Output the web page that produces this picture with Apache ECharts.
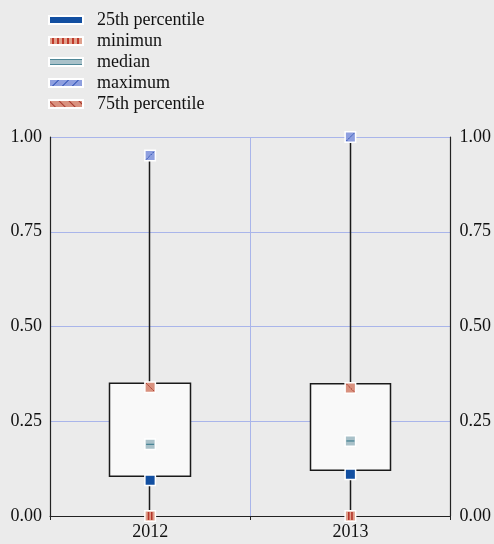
<!DOCTYPE html>
<html><head><meta charset="utf-8">
<style>html,body{margin:0;padding:0;background:#ebebeb;}#c{width:494px;height:544px;}</style>
<script src="https://cdn.jsdelivr.net/npm/echarts@6/dist/echarts.min.js"></script>
</head><body><div id="c"></div>
<script>
var categories = ['2012', '2013'];
var yTicks = [0, 0.25, 0.5, 0.75, 1];
// box: [lower edge, upper edge, whisker low, whisker high]
var boxLower = [0.105, 0.121];
var boxUpper = [0.35, 0.349];
var whiskerLow = [0, 0];
var whiskerHigh = [0.95, 1.0];
var p25 = [0.094, 0.11];
var minimum = [0, 0];
var median = [0.189, 0.198];
var maximum = [0.951, 1.0];
var p75 = [0.34, 0.338];

var font = 'Liberation Serif';
var chart = echarts.init(document.getElementById('c'));
function sc(name, data, color, decal) {
  return {
    name: name, type: 'scatter', data: data, symbol: 'rect', symbolSize: 10.5, z: 5,
    itemStyle: {color: color, borderColor: '#fff', borderWidth: 1.5, decal: decal, opacity: 1},
    emphasis: {disabled: true}
  };
}
var boxData = categories.map(function (c, i) { return [boxLower[i], boxUpper[i], whiskerLow[i], whiskerHigh[i]]; });
// pattern overlay: [category index, value, pattern kind]
var patternData = [];
categories.forEach(function (c, i) {
  patternData.push([i, minimum[i], 0]);
  patternData.push([i, median[i], 1]);
  patternData.push([i, maximum[i], 2]);
  patternData.push([i, p75[i], 3]);
});
function renderPattern(params, api) {
  var p = api.coord([api.value(0), api.value(1)]);
  var k = api.value(2), x = p[0], y = p[1], h = 4;
  var kids = [];
  if (k === 0) {
    kids.push({type: 'line', shape: {x1: x - 1.6, y1: y - h, x2: x - 1.6, y2: y + h}, style: {stroke: '#b3342a', lineWidth: 1.6}});
    kids.push({type: 'line', shape: {x1: x + 1.6, y1: y - h, x2: x + 1.6, y2: y + h}, style: {stroke: '#b3342a', lineWidth: 1.6}});
  } else if (k === 1) {
    kids.push({type: 'line', shape: {x1: x - h, y1: y, x2: x + h, y2: y}, style: {stroke: '#4a8596', lineWidth: 1.3}});
  } else if (k === 2) {
    kids.push({type: 'line', shape: {x1: x - h, y1: y + h, x2: x + h, y2: y - h}, style: {stroke: '#2b4fb4', lineWidth: 1, lineDash: [2, 1]}});
  } else {
    kids.push({type: 'line', shape: {x1: x - h, y1: y - h, x2: x + h, y2: y + h}, style: {stroke: '#a8372c', lineWidth: 1, lineDash: [2, 1]}});
  }
  return {type: 'group', children: kids};
}
chart.setOption({
  backgroundColor: '#ebebeb',
  animation: false,
  legend: {
    orient: 'vertical', left: 43, top: 6, itemWidth: 34, itemHeight: 8, itemGap: 3,
    icon: 'rect',
    textStyle: {fontFamily: font, fontSize: 18, color: '#111', padding: [0, 0, 0, 9]},
    data: ['25th percentile', 'minimun', 'median', 'maximum', '75th percentile']
  },
  grid: {left: 50, right: 42, top: 137, bottom: 28},
  xAxis: {
    type: 'category', data: categories, boundaryGap: true,
    axisLine: {lineStyle: {color: '#222', width: 1.2}},
    axisTick: {show: true, length: 4, lineStyle: {color: '#222'}},
    axisLabel: {fontFamily: font, fontSize: 18, color: '#111', margin: 7},
    splitLine: {show: true, lineStyle: {color: '#a9b5ea', width: 1}}
  },
  yAxis: [{
    type: 'value', min: 0, max: 1, interval: 0.25, position: 'left',
    axisLine: {show: true, lineStyle: {color: '#222', width: 1.2}},
    axisTick: {show: false},
    axisLabel: {fontFamily: font, fontSize: 18, color: '#111', margin: 8, formatter: function (v) { return v.toFixed(2); }},
    splitLine: {show: true, lineStyle: {color: '#a9b5ea', width: 1}}
  }, {
    type: 'value', min: 0, max: 1, interval: 0.25, position: 'right',
    axisLine: {show: true, lineStyle: {color: '#222', width: 1.2}},
    axisTick: {show: false},
    axisLabel: {fontFamily: font, fontSize: 18, color: '#111', margin: 9, formatter: function (v) { return v.toFixed(2); }},
    splitLine: {show: false}
  }],
  series: [
    {
      type: 'candlestick', data: boxData, barWidth: 81, z: 2,
      itemStyle: {color: '#f9f9f9', color0: '#f9f9f9', borderColor: '#1a1a1a', borderColor0: '#1a1a1a', borderWidth: 1.5},
      emphasis: {disabled: true}
    },
    sc('25th percentile', p25, '#124fa1', null),
    sc('minimun', minimum, '#e0a08c', {symbol: 'rect', color: '#c0392b', dashArrayX: [1, 0], dashArrayY: [2, 3], rotation: Math.PI / 2, symbolSize: 1}),
    sc('median', median, '#a9c1c9', {symbol: 'rect', color: '#4f8797', dashArrayX: [1, 0], dashArrayY: [2, 4], rotation: 0, symbolSize: 1}),
    sc('maximum', maximum, '#8e9fdf', {symbol: 'rect', color: '#2c4fb5', dashArrayX: [1, 0], dashArrayY: [1, 6], rotation: -Math.PI / 4, symbolSize: 1}),
    sc('75th percentile', p75, '#d9917e', {symbol: 'rect', color: '#a8372c', dashArrayX: [1, 0], dashArrayY: [1, 6], rotation: Math.PI / 4, symbolSize: 1}),
    {
      type: 'custom', name: 'patterns', data: patternData, renderItem: renderPattern, z: 6, silent: true,
      clip: false, encode: {x: 0, y: 1}
    }
  ]
});
</script></body></html>
